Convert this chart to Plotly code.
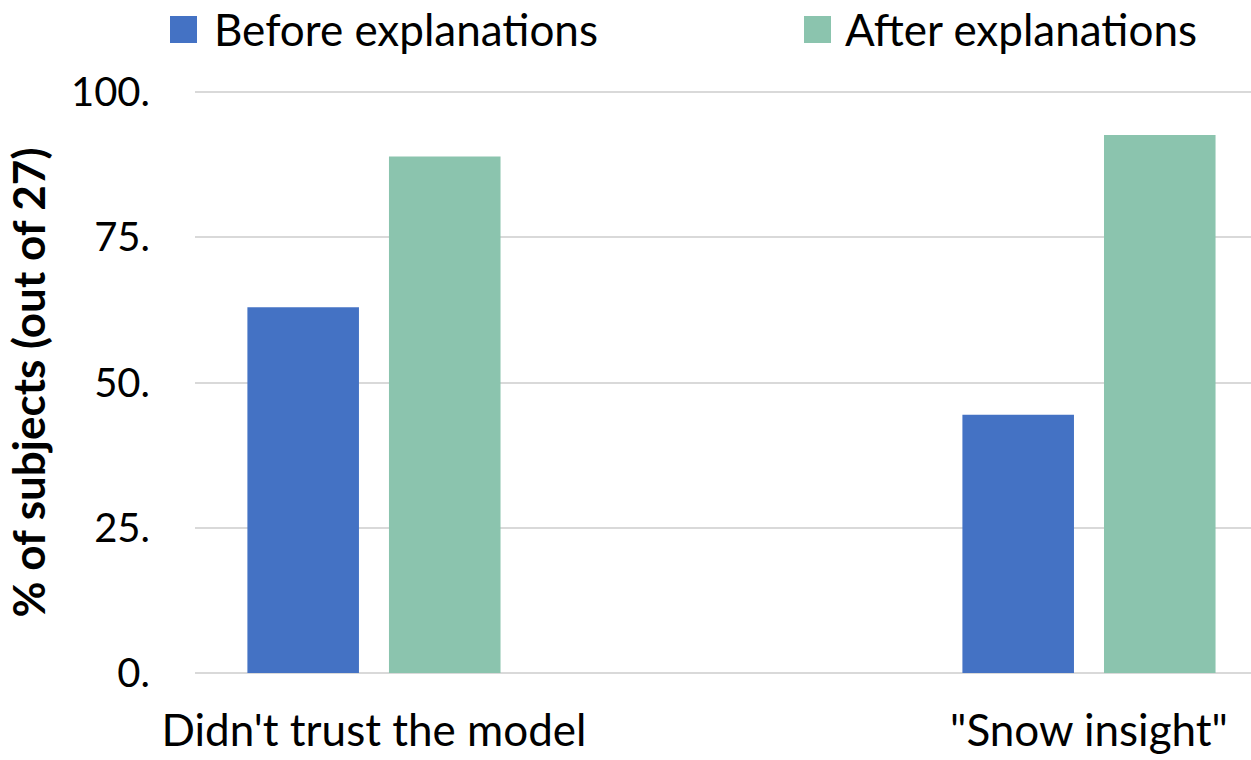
import plotly.graph_objects as go

categories = ["Didn't trust the model", '"Snow insight"']
before_vals = [17 / 27 * 100, 12 / 27 * 100]
after_vals = [24 / 27 * 100, 25 / 27 * 100]
series_names = ["Before explanations", "After explanations"]
ytick_vals = [0, 25, 50, 75, 100]
ytick_text = ["0.", "25.", "50.", "75.", "100."]

BLUE = "#4472C4"
GREEN = "#8BC4AE"
FONT = "Lato"

W, H = 1251, 760
PAD = 2  # px of extra plot area so edge gridlines at 0 and 100 are drawn
L, R, T, B = 195, 0, 92 - PAD, 87 - PAD
pw, ph = W - L - R, H - T - B
yext = PAD * 100 / (ph - 2 * PAD)


def px(x):
    return (x - L) / pw


def py(y):
    return (H - B - y) / ph


fig = go.Figure()
fig.add_trace(go.Bar(x=categories, y=before_vals, name=series_names[0],
                     marker=dict(color=BLUE, line=dict(width=0)), showlegend=False))
fig.add_trace(go.Bar(x=categories, y=after_vals, name=series_names[1],
                     marker=dict(color=GREEN, line=dict(width=0)), showlegend=False))

shapes = []
annotations = []
for (x0, color, tx, name) in [(170, BLUE, 212, series_names[0]), (804, GREEN, 843, series_names[1])]:
    shapes.append(dict(type="rect", xref="paper", yref="paper",
                       x0=px(x0), x1=px(x0 + 27), y0=py(43), y1=py(16),
                       fillcolor=color, line=dict(width=0)))
    annotations.append(dict(xref="paper", yref="paper", x=px(tx), y=py(29),
                            xanchor="left", yanchor="middle", showarrow=False,
                            text=name, font=dict(family=FONT, size=44, color="#000000")))

fig.update_layout(
    width=W, height=H,
    margin=dict(l=L, r=R, t=T, b=B, pad=0),
    paper_bgcolor="white", plot_bgcolor="white",
    barmode="group", bargap=0.604, bargroupgap=0.212,
    shapes=shapes, annotations=annotations,
    font=dict(family=FONT, color="#000000"),
)
fig.update_xaxes(
    type="category", range=[-0.2503, 1.2266],
    showgrid=False, showline=False, zeroline=False,
    tickfont=dict(family=FONT, size=44, color="#000000"),
    ticks="", ticklabelstandoff=26,
)
fig.update_yaxes(
    range=[-yext, 100 + yext], tickvals=ytick_vals, ticktext=ytick_text,
    showgrid=True, gridcolor="#D9D9D9", gridwidth=2,
    zeroline=False, showline=False,
    tickfont=dict(family=FONT, size=40, color="#000000"),
    ticks="", ticklabelstandoff=44,
    title=dict(text="<b>% of subjects (out of 27)</b>", standoff=11,
               font=dict(family=FONT, size=44, color="#000000")),
)

fig.write_html("out.html")
